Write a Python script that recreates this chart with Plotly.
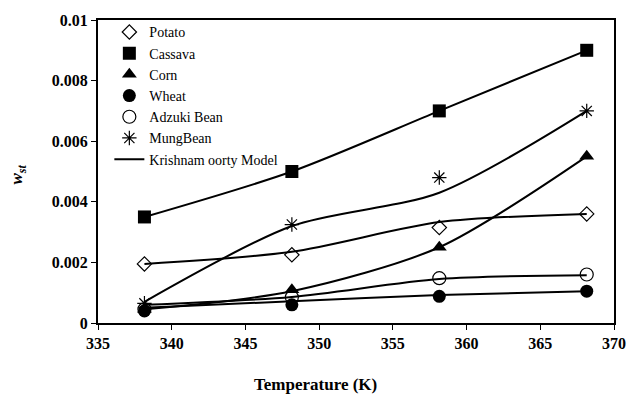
import plotly.graph_objects as go

# Temperatures (K)
temps = [338.15, 348.15, 358.15, 368.15]

# Measured w_st
potato = [0.00195, 0.00225, 0.00315, 0.0036]
cassava = [0.0035, 0.005, 0.007, 0.009]
corn = [0.00045, 0.0011, 0.0025, 0.0055]
wheat = [0.0004, 0.0006, 0.00088, 0.00105]
adzuki = [0.00045, 0.00085, 0.00148, 0.0016]
mungbean = [0.00065, 0.00325, 0.0048, 0.007]

# Krishnamoorty model values
potato_model = [0.00195, 0.00235, 0.00333, 0.0036]
cassava_model = [0.0035, 0.005, 0.007, 0.009]
corn_model = [0.00045, 0.00105, 0.0025, 0.0055]
wheat_model = [0.0005, 0.00072, 0.00092, 0.00105]
adzuki_model = [0.0006, 0.00086, 0.00145, 0.00158]
mungbean_model = [0.0007, 0.0032, 0.0043, 0.007]

y_ticks = [0, 0.002, 0.004, 0.006, 0.008, 0.01]
y_tick_text = ["0", "0.002", "0.004", "0.006", "0.008", "0.01"]
x_ticks = [335, 340, 345, 350, 355, 360, 365, 370]

serif = "Times New Roman"

fig = go.Figure()

series = [
    ("Potato", potato, dict(symbol="diamond-open", size=11, line=dict(width=1.2, color="black"))),
    ("Cassava", cassava, dict(symbol="square", size=13, color="black")),
    ("Corn", corn, dict(symbol="triangle-up", size=13, color="black")),
    ("Wheat", wheat, dict(symbol="circle", size=13, color="black")),
    ("Adzuki Bean", adzuki, dict(symbol="circle-open", size=13, line=dict(width=1.2, color="black"))),
    ("MungBean", mungbean, dict(symbol="asterisk-open", size=12, line=dict(width=1.2, color="black"))),
]
for name, vals, mk in series:
    mk.setdefault("color", "black")
    fig.add_trace(go.Scatter(x=temps, y=vals, mode="markers", name=name, marker=mk))

models = [potato_model, cassava_model, corn_model, wheat_model, adzuki_model, mungbean_model]
for i, vals in enumerate(models):
    fig.add_trace(go.Scatter(
        x=temps, y=vals, mode="lines", name="Krishnam oorty Model",
        line=dict(color="black", width=2, shape="spline", smoothing=0.8),
        showlegend=(i == 0),
    ))

fig.update_layout(
    width=638, height=395,
    margin=dict(l=98, r=16, t=20, b=72),
    paper_bgcolor="white", plot_bgcolor="white",
    font=dict(family=serif, color="black"),
    showlegend=True,
    legend=dict(
        x=0.022, y=1.012, xanchor="left", yanchor="top",
        bgcolor="rgba(0,0,0,0)", borderwidth=0,
        font=dict(family=serif, size=14, color="black"),
        tracegroupgap=0, itemwidth=30,
    ),
    xaxis=dict(
        range=[335, 370], tickvals=x_ticks,
        showgrid=False, zeroline=False,
        showline=True, linecolor="black", linewidth=2, mirror=True,
        ticks="outside", ticklen=5, tickcolor="black", tickwidth=1,
        tickfont=dict(family=serif, size=16, color="black", weight="bold"),
    ),
    yaxis=dict(
        range=[0, 0.01], tickvals=y_ticks, ticktext=y_tick_text,
        showgrid=False, zeroline=False,
        showline=True, linecolor="black", linewidth=2, mirror=True,
        ticks="outside", ticklen=5, tickcolor="black", tickwidth=1,
        tickfont=dict(family=serif, size=16, color="black", weight="bold"),
    ),
    annotations=[
        dict(text="<b>Temperature (K)</b>", xref="paper", yref="paper",
             x=(319 - 98) / 524, y=-0.165, xanchor="center", yanchor="top",
             showarrow=False, font=dict(family=serif, size=17, color="black")),
        dict(text="<b><i>w</i></b><sub><b><i>st</i></b></sub>", xref="paper", yref="paper",
             x=-0.155, y=0.49, xanchor="center", yanchor="middle", textangle=-90,
             showarrow=False, font=dict(family=serif, size=17, color="black")),
    ],
)

fig.write_html("out.html")
